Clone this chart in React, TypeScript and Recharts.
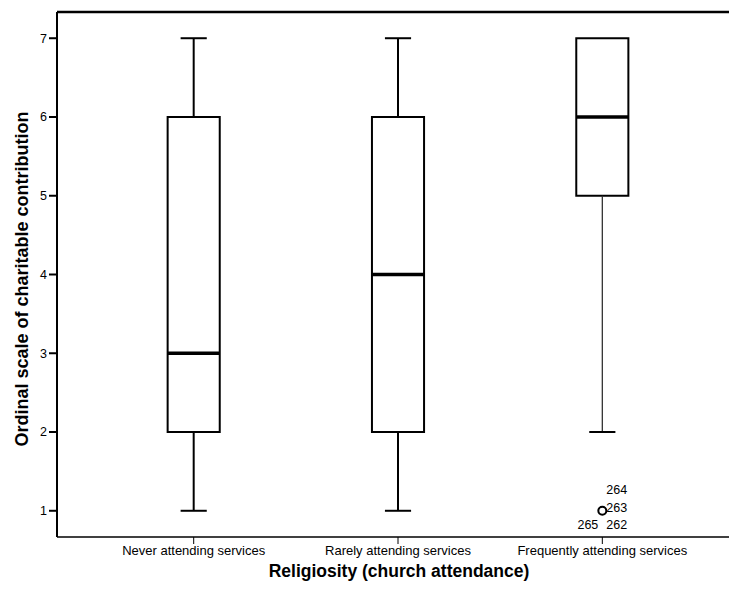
import {
  ComposedChart,
  XAxis,
  YAxis,
  Label,
  ReferenceArea,
  ReferenceLine,
  Scatter,
} from "recharts"

const categories = [
  "Never attending services",
  "Rarely attending services",
  "Frequently attending services",
]
const lowerWhisker = [1, 1, 2]
const q1 = [2, 2, 5]
const median = [3, 4, 6]
const q3 = [6, 6, 7]
const upperWhisker = [7, 7, 7]
const yTicks = [1, 2, 3, 4, 5, 6, 7]

// outlying cases: group position, value, case numbers
const outliers = [{ x: 3, y: 1, cases: ["264", "263", "265", "262"] }]

const FONT = "'Liberation Sans', Arial, sans-serif"
const BOX_HALF = 0.1275
const CAP_HALF = 0.064
const Y_DOMAIN: [number, number] = [0.667, 7.333]

// where each case number sits around the circle
const caseOffsets = [
  { dx: 4, dy: -21, anchor: "start" },
  { dx: 4, dy: -3, anchor: "start" },
  { dx: -4, dy: 14, anchor: "end" },
  { dx: 4, dy: 14, anchor: "start" },
]

const OutlierShape = (props: any) => {
  const { cx, cy, payload } = props
  return (
    <g>
      <circle cx={cx} cy={cy} r={4} fill="none" stroke="#000" strokeWidth={2} />
      {payload.cases.map((c: string, i: number) => (
        <text
          key={c}
          x={cx + caseOffsets[i].dx}
          y={cy + caseOffsets[i].dy}
          textAnchor={caseOffsets[i].anchor}
          dominantBaseline="central"
          fontSize={12.5}
          fontFamily={FONT}
          fill="#000"
        >
          {c}
        </text>
      ))}
    </g>
  )
}

const XTitle = ({ viewBox }: any) => (
  <text
    x={viewBox.x + viewBox.width / 2 + 6}
    y={viewBox.y + 40}
    textAnchor="middle"
    fontSize={17.5}
    fontWeight="bold"
    fontFamily={FONT}
    fill="#000"
  >
    Religiosity (church attendance)
  </text>
)

const YTitle = ({ viewBox }: any) => {
  const cy = viewBox.y + viewBox.height / 2 + 4.5
  return (
    <text
      x={28}
      y={cy}
      transform={`rotate(-90, 28, ${cy})`}
      textAnchor="middle"
      fontSize={18}
      fontWeight="bold"
      fontFamily={FONT}
      fill="#000"
    >
      Ordinal scale of charitable contribution
    </text>
  )
}

export default function App() {
  return (
    <div style={{ position: "absolute", left: 0, top: 0, background: "#fff" }}>
      <ComposedChart
        width={729}
        height={591}
        margin={{ top: 12, right: 0, bottom: 0, left: 0 }}
      >
        <XAxis
          dataKey="x"
          type="number"
          domain={[0.331, 3.62]}
          ticks={[1, 2, 3]}
          tickFormatter={(v: number) => categories[v - 1]}
          tickSize={7}
          height={54}
          axisLine={{ stroke: "#000", strokeWidth: 1.5 }}
          tickLine={{ stroke: "#000", strokeWidth: 1 }}
          tick={{ fill: "#000", fontSize: 13, fontFamily: FONT }}
          allowDataOverflow
        >
          <Label content={<XTitle />} />
        </XAxis>
        <YAxis
          dataKey="y"
          type="number"
          domain={Y_DOMAIN}
          ticks={yTicks}
          tickSize={8}
          width={57}
          axisLine={{ stroke: "#000", strokeWidth: 2 }}
          tickLine={{ stroke: "#000", strokeWidth: 2 }}
          tick={{ fill: "#000", fontSize: 12.5, fontFamily: FONT }}
          allowDataOverflow
        >
          <Label content={<YTitle />} />
        </YAxis>

        <ReferenceLine y={Y_DOMAIN[1]} stroke="#000" strokeWidth={2.5} />

        {categories.map((_, i) => {
          const x = i + 1
          const thin = i === 2
          return [
            <ReferenceArea
              key={`box-${i}`}
              x1={x - BOX_HALF}
              x2={x + BOX_HALF}
              y1={q1[i]}
              y2={q3[i]}
              fill="none"
              stroke="#000"
              strokeWidth={2}
              strokeOpacity={1}
            />,
            <ReferenceLine
              key={`lw-${i}`}
              segment={[{ x, y: lowerWhisker[i] }, { x, y: q1[i] }]}
              stroke={thin ? "#333" : "#000"}
              strokeWidth={thin ? 1.3 : 2}
            />,
            <ReferenceLine
              key={`lc-${i}`}
              segment={[
                { x: x - CAP_HALF, y: lowerWhisker[i] },
                { x: x + CAP_HALF, y: lowerWhisker[i] },
              ]}
              stroke="#000"
              strokeWidth={2}
            />,
            upperWhisker[i] > q3[i] && (
              <ReferenceLine
                key={`uw-${i}`}
                segment={[{ x, y: q3[i] }, { x, y: upperWhisker[i] }]}
                stroke="#000"
                strokeWidth={2}
              />
            ),
            upperWhisker[i] > q3[i] && (
              <ReferenceLine
                key={`uc-${i}`}
                segment={[
                  { x: x - CAP_HALF, y: upperWhisker[i] },
                  { x: x + CAP_HALF, y: upperWhisker[i] },
                ]}
                stroke="#000"
                strokeWidth={2}
              />
            ),
            <ReferenceLine
              key={`med-${i}`}
              segment={[
                { x: x - BOX_HALF, y: median[i] },
                { x: x + BOX_HALF, y: median[i] },
              ]}
              stroke="#000"
              strokeWidth={3.5}
            />,
          ]
        })}

        <Scatter
          data={outliers}
          dataKey="y"
          shape={<OutlierShape />}
          isAnimationActive={false}
        />
      </ComposedChart>
    </div>
  )
}
